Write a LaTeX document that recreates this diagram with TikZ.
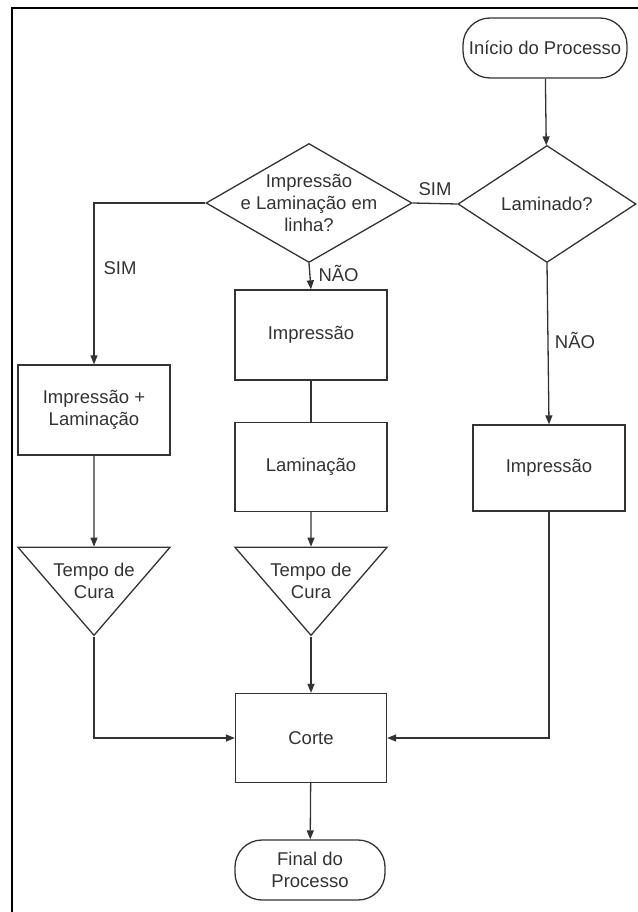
\documentclass[tikz,border=0pt]{standalone}
\usepackage{fontspec}
\setmainfont{Liberation Sans}
\usepackage{xcolor}
\usetikzlibrary{arrows.meta,positioning,shapes.geometric}

\definecolor{inkgray}{HTML}{333333}

\begin{document}
\begin{tikzpicture}[
    x=1pt, y=-1pt,
    every node/.style={font=\fontsize{18.5}{22}\selectfont, text=inkgray},
    terminal/.style={rectangle, rounded corners=27pt, draw=inkgray, line width=1.3pt,
                     align=center, inner sep=0pt},
    process/.style={rectangle, draw=inkgray, line width=1.3pt, align=center,
                    minimum width=152pt, minimum height=90pt, inner sep=0pt},
    decision/.style={diamond, draw=inkgray, line width=1.3pt, align=center,
                     aspect=1.73, inner xsep=-25pt, inner ysep=-20pt},
    curetime/.style={isosceles triangle, shape border rotate=-90,
                     isosceles triangle stretches, draw=inkgray, line width=1.3pt,
                     align=center, inner xsep=-40pt, inner ysep=-22pt,
                     minimum width=152pt, minimum height=88pt},
    flow/.style={-{Triangle[length=9pt,width=7pt]}, line width=1.3pt, draw=inkgray},
    link/.style={line width=1.3pt, draw=inkgray},
    branch/.style={font=\fontsize{18.5}{22}\selectfont},
]
\useasboundingbox (0,0) rectangle (637,912);

% frame
\draw[line width=2.5pt, black] (12,912) -- (12,8) -- (640,8);

% -------- start and first decision --------
\node[terminal, minimum width=164pt, minimum height=60pt] (start) at (545,48) {Início do Processo};
\node[decision, minimum width=178pt, minimum height=117pt] (lam) at (547,204) {Laminado?};
\node[decision, minimum width=206pt, minimum height=119pt] (dec1) at (309,203)
    {Impressão\\e Laminação em\\linha?};

% -------- left branch --------
\node[process] (both) at (94,410) {Impressão +\\Laminação};
\node[curetime, anchor=apex] (cura1) at (94,637) {Tempo de\\Cura};

% -------- middle branch --------
\node[process] (imp1) at (311,335) {Impressão};
\node[process, minimum height=89pt] (lam1) at (311,467) {Laminação};
\node[curetime, anchor=apex] (cura2) at (311,637) {Tempo de\\Cura};

% -------- right branch --------
\node[process, minimum height=86pt] (imp2) at (549,468) {Impressão};

% -------- end --------
\node[process, minimum width=151pt, minimum height=89pt] (corte) at (311,738) {Corte};
\node[terminal, minimum width=150pt, minimum height=60pt] (final) at (310,870) {Final do\\Processo};

% connectors
\draw[flow] (start) -- (lam);
\draw[link] (lam.west) -- node[branch, above=4pt] {SIM} (dec1.east);
\draw[flow] (dec1.west) -| (both.north);
\node[branch] (simleft) at (120,268) {SIM};
\draw[flow] (dec1.south) -- (imp1.north);
\node[branch, anchor=west] (naomid) at (315,273) {NÃO};
\draw[link] (imp1) -- (lam1);
\draw[flow] (lam1) -- (cura2);
\draw[flow] (cura2.apex) -- (corte);
\draw[flow] (both) -- (cura1);
\draw[flow] (cura1.apex) |- (corte.west);
\draw[flow] (lam.south) -- (imp2.north);
\node[branch] (naoright) at (575,340) {NÃO};
\draw[flow] (imp2.south) |- (corte.east);
\draw[flow] (corte) -- (final);

\end{tikzpicture}
\end{document}
